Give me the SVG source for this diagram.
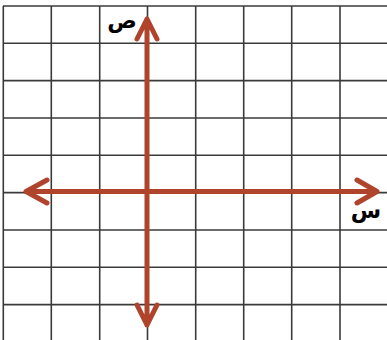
<svg xmlns="http://www.w3.org/2000/svg" width="387" height="340" viewBox="0 0 387 340">
<style>
.grid line{stroke:#3a3a3a;stroke-width:1.6}
.axis{stroke:#b0432c;stroke-width:5;stroke-linecap:round;stroke-linejoin:round;fill:none}
.lbl{font-family:"Noto Sans","DejaVu Sans",sans-serif;font-size:22px;font-weight:bold;fill:#000}
</style>
<rect width="387" height="340" fill="#fff"/>
<g id="grid" class="grid">
<line x1="3" y1="6" x2="387" y2="6"/>
<line x1="3" y1="43.3" x2="387" y2="43.3"/>
<line x1="3" y1="80.6" x2="387" y2="80.6"/>
<line x1="3" y1="118" x2="387" y2="118"/>
<line x1="3" y1="155.3" x2="387" y2="155.3"/>
<line x1="3" y1="192.6" x2="387" y2="192.6"/>
<line x1="3" y1="230" x2="387" y2="230"/>
<line x1="3" y1="267.3" x2="387" y2="267.3"/>
<line x1="3" y1="304.6" x2="387" y2="304.6"/>
<line x1="3.3" y1="6" x2="3.3" y2="340"/>
<line x1="51.3" y1="6" x2="51.3" y2="340"/>
<line x1="99.7" y1="6" x2="99.7" y2="340"/>
<line x1="147.5" y1="6" x2="147.5" y2="340"/>
<line x1="195.7" y1="6" x2="195.7" y2="340"/>
<line x1="243.7" y1="6" x2="243.7" y2="340"/>
<line x1="291.7" y1="6" x2="291.7" y2="340"/>
<line x1="340" y1="6" x2="340" y2="340"/>
</g>
<g id="connectors">
<path class="axis" d="M147 19 V325 M137 39 L147 19 L157 39 M137 305 L147 325 L157 305"/>
<path class="axis" d="M26 191.5 H377 M47 180 L26 191.5 L47 203 M357 180 L377 191.5 L357 203"/>
</g>
<g id="label-y"><text class="lbl" x="122" y="28" text-anchor="middle">ص</text></g>
<g id="label-x"><text class="lbl" x="366" y="218" text-anchor="middle">س</text></g>
</svg>
